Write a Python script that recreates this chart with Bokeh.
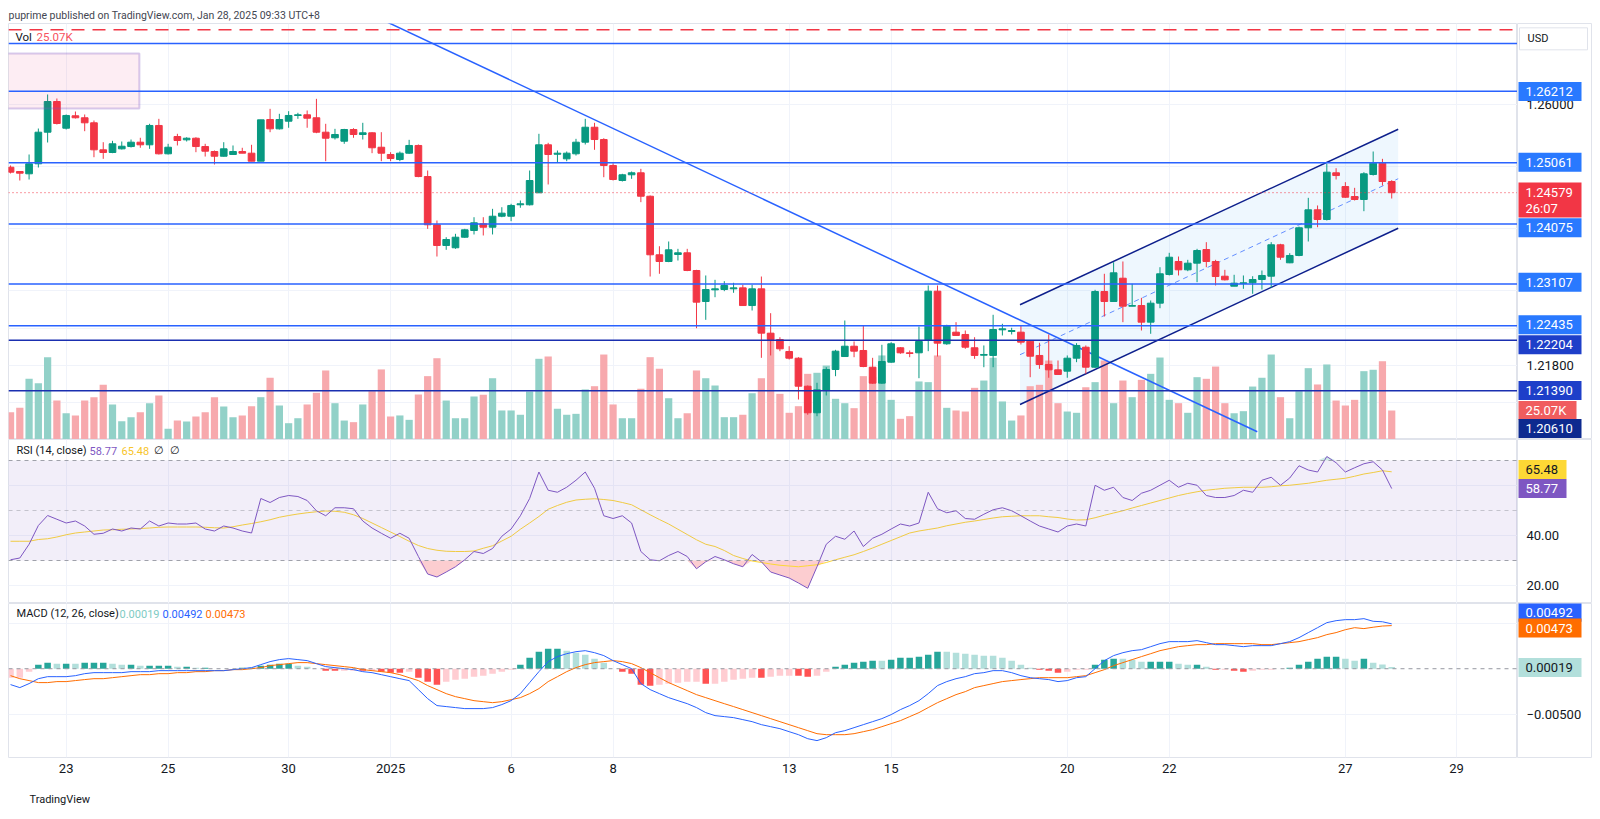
from bokeh.plotting import figure
from bokeh.layouts import column, row
from bokeh.models import (Range1d, FixedTicker, Label, Span, ColumnDataSource, Title,
                          BoxAnnotation)
from bokeh.core.properties import value
from bokeh.embed import file_html
from bokeh.resources import INLINE

# ---------------- data (4H candles) ----------------
opens = [1.24989,1.24920,1.24883,1.25044,1.25553,1.26047,1.25617,1.25817,1.25785,1.25704,
         1.25269,1.25226,1.25285,1.25322,1.25392,1.25350,1.25661,1.25205,1.25483,1.25430,
         1.25456,1.25322,1.25242,1.25166,1.25194,1.25242,1.25215,1.25086,1.25757,1.25607,
         1.25730,1.25822,1.25833,1.25785,1.25553,1.25463,1.25408,1.25596,1.25516,1.25543,
         1.25311,1.25194,1.25113,1.25215,1.25339,1.24839,1.24062,1.23729,1.23692,1.23862,
         1.23970,1.24078,1.24023,1.24200,1.24200,1.24384,1.24384,1.24577,1.25350,1.25198,
         1.25124,1.25205,1.25392,1.25633,1.25435,1.25017,1.24775,1.24867,1.24899,1.24522,
         1.23579,1.23471,1.23584,1.23611,1.23326,1.22827,1.23015,1.23020,1.23031,1.23047,
         1.22762,1.23031,1.22317,1.22215,1.22022,1.21914,1.21463,1.21035,1.21394,1.21732,
         1.21941,1.22107,1.22038,1.21769,1.21512,1.21850,1.22082,1.22001,1.22001,1.22210,
         1.22993,1.22146,1.22333,1.22296,1.22082,1.21962,1.21958,1.22371,1.22344,1.22333,
         1.22188,1.21958,1.21813,1.21727,1.21705,1.21914,1.22091,1.21769,1.22988,1.22827,
         1.23202,1.22751,1.22762,1.22494,1.22800,1.23262,1.23471,1.23337,1.23444,1.23664,
         1.23471,1.23234,1.23073,1.23117,1.23128,1.23181,1.23234,1.23740,1.23450,1.23568,
         1.24014,1.24303,1.24147,1.24899,1.24678,1.24517,1.24469,1.24872,1.25053,1.24759]
highs = [1.25017,1.24920,1.25194,1.25612,1.26160,1.26095,1.25838,1.25886,1.25838,1.25741,
         1.25392,1.25414,1.25403,1.25435,1.25463,1.25688,1.25768,1.25366,1.25527,1.25472,
         1.25472,1.25366,1.25258,1.25392,1.25339,1.25302,1.25350,1.25752,1.25929,1.25849,
         1.25891,1.25865,1.25902,1.26090,1.25688,1.25607,1.25607,1.25617,1.25704,1.25553,
         1.25553,1.25231,1.25242,1.25430,1.25355,1.24936,1.24131,1.23862,1.23917,1.23997,
         1.24184,1.24184,1.24319,1.24345,1.24400,1.24453,1.24936,1.25527,1.25382,1.25258,
         1.25242,1.25446,1.25768,1.25704,1.25456,1.25053,1.24883,1.24920,1.24963,1.24534,
         1.23717,1.23793,1.23675,1.23675,1.23337,1.23246,1.23176,1.23154,1.23128,1.23096,
         1.23096,1.23229,1.22639,1.22252,1.22107,1.21930,1.21475,1.21518,1.21769,1.22049,
         1.22521,1.22183,1.22441,1.21920,1.22130,1.22172,1.22091,1.22038,1.22424,1.23085,
         1.23085,1.22452,1.22494,1.22360,1.22252,1.22119,1.22613,1.22468,1.22404,1.22441,
         1.22199,1.22162,1.22296,1.21877,1.21958,1.22156,1.22119,1.23015,1.23273,1.23460,
         1.23471,1.23112,1.22886,1.22843,1.23379,1.23611,1.23551,1.23498,1.23675,1.23782,
         1.23498,1.23337,1.23257,1.23246,1.23234,1.23326,1.23782,1.23756,1.23605,1.24034,
         1.24496,1.24373,1.25044,1.24973,1.24748,1.24657,1.24909,1.25242,1.25124,1.24780]
lows = [1.24888,1.24775,1.24791,1.24984,1.25387,1.25677,1.25596,1.25773,1.25569,1.25150,
        1.25124,1.25215,1.25274,1.25306,1.25302,1.25285,1.25194,1.25194,1.25339,1.25403,
        1.25231,1.25161,1.25033,1.25161,1.25194,1.25215,1.25086,1.25086,1.25553,1.25596,
        1.25624,1.25768,1.25624,1.25537,1.25086,1.25435,1.25366,1.25463,1.25435,1.25215,
        1.25086,1.25086,1.25086,1.25205,1.24828,1.23997,1.23551,1.23659,1.23675,1.23853,
        1.23906,1.23890,1.23906,1.24184,1.24120,1.24336,1.24373,1.24577,1.24711,1.25060,
        1.25086,1.25177,1.25355,1.25269,1.24828,1.24775,1.24759,1.24802,1.24426,1.23229,
        1.23273,1.23460,1.23487,1.23315,1.22397,1.22532,1.22896,1.22993,1.22967,1.22762,
        1.22682,1.21920,1.21958,1.22027,1.21893,1.21249,1.21003,1.20980,1.21314,1.21624,
        1.21941,1.21930,1.21769,1.21502,1.21502,1.21840,1.21985,1.21930,1.21592,1.22027,
        1.21941,1.22130,1.22280,1.22065,1.21904,1.21769,1.21769,1.22280,1.22296,1.22135,
        1.21608,1.21743,1.21599,1.21652,1.21599,1.21850,1.21663,1.21760,1.22585,1.22827,
        1.22494,1.22751,1.22360,1.22307,1.22719,1.23246,1.23246,1.23315,1.23138,1.23379,
        1.23085,1.23165,1.23073,1.23031,1.22951,1.23020,1.23047,1.23498,1.23444,1.23556,
        1.23793,1.24023,1.24131,1.24791,1.24496,1.24453,1.24281,1.24855,1.24694,1.24485]
closes = [1.24909,1.24893,1.25044,1.25553,1.26047,1.25693,1.25822,1.25785,1.25704,1.25269,
          1.25226,1.25366,1.25327,1.25392,1.25350,1.25661,1.25205,1.25311,1.25419,1.25456,
          1.25322,1.25247,1.25166,1.25285,1.25242,1.25215,1.25086,1.25752,1.25607,1.25757,
          1.25822,1.25833,1.25778,1.25553,1.25456,1.25516,1.25596,1.25516,1.25543,1.25302,
          1.25215,1.25129,1.25215,1.25339,1.24839,1.24062,1.23729,1.23825,1.23862,1.23981,
          1.24094,1.24023,1.24200,1.24249,1.24373,1.24400,1.24775,1.25350,1.25194,1.25215,
          1.25215,1.25392,1.25633,1.25435,1.25017,1.24791,1.24867,1.24899,1.24522,1.23579,
          1.23471,1.23659,1.23611,1.23326,1.22816,1.23020,1.23031,1.23085,1.23047,1.22762,
          1.23031,1.22317,1.22215,1.22065,1.21914,1.21463,1.21035,1.21405,1.21732,1.22027,
          1.22107,1.22027,1.21780,1.21512,1.21861,1.22146,1.22001,1.21990,1.22183,1.22993,
          1.22156,1.22441,1.22280,1.22091,1.21958,1.21974,1.22376,1.22387,1.22360,1.22172,
          1.21946,1.21813,1.21727,1.21652,1.21914,1.22119,1.21769,1.22988,1.22827,1.23289,
          1.22751,1.22762,1.22494,1.22800,1.23273,1.23540,1.23337,1.23444,1.23648,1.23471,
          1.23229,1.23176,1.23122,1.23128,1.23181,1.23246,1.23740,1.23540,1.23568,1.24014,
          1.24303,1.24147,1.24909,1.24855,1.24506,1.24469,1.24883,1.25053,1.24759,1.24579]
volume_k = [23.6,27.4,52.5,48.7,71.2,33.7,22.7,20.8,33.7,36.6,47.3,30.3,15.8,19.3,23.6,
            31.4,38.1,9.3,16.4,15.6,19.9,23.6,36.6,28.5,19.3,20.8,28.8,36.6,53.4,29.4,
            14.1,18.4,30.3,40.4,59.7,31.4,16.4,15.0,30.3,41.8,60.6,19.9,20.8,17.0,38.9,
            54.8,70.3,33.7,18.4,18.4,37.2,38.7,53.0,25.1,25.1,21.4,41.5,69.8,71.8,26.6,
            21.4,22.2,43.3,46.1,73.5,30.3,18.4,18.4,43.9,71.2,61.2,35.7,18.4,22.7,59.7,
            53.0,46.7,19.3,19.3,21.4,40.0,53.0,91.9,39.5,23.1,28.8,56.8,57.7,64.0,35.2,
            31.4,27.1,54.8,53.9,72.7,34.3,17.9,20.2,50.2,49.6,72.7,27.4,25.1,24.2,44.7,
            51.0,70.7,32.9,16.4,20.8,46.1,47.3,68.3,31.4,24.2,23.1,45.2,49.6,68.3,31.4,
            51.0,36.6,51.6,56.8,70.9,34.3,31.4,23.1,53.9,52.5,63.1,31.4,22.7,24.5,45.8,
            53.4,73.5,36.6,18.4,41.8,61.7,47.6,64.9,33.7,29.4,34.3,59.1,60.3,67.7,25.07]
rsi = [30.3,31.0,36.5,44.0,48.0,46.5,45.0,45.8,43.8,40.5,40.9,42.6,41.8,43.0,42.6,45.8,43.8,45.0,44.6,44.6,
       45.0,42.6,41.8,43.8,43.0,41.8,41.0,54.8,53.2,55.2,56.0,55.6,54.0,49.9,47.9,51.1,51.1,50.7,45.8,43.0,
       40.9,38.9,40.9,38.9,31.6,24.6,23.4,25.4,27.5,30.3,33.6,32.8,34.8,39.7,42.6,47.9,54.8,65.4,58.1,57.3,
       59.3,62.1,65.4,58.9,47.9,46.8,47.9,45.0,33.6,30.3,29.9,32.0,33.6,31.6,26.7,29.5,31.6,30.3,28.7,27.5,
       32.4,29.5,25.4,24.2,23.0,21.0,18.9,27.5,36.5,39.7,38.5,41.8,35.6,38.9,40.5,42.6,44.6,43.8,45.0,57.3,
       50.7,49.1,49.9,46.8,46.5,48.5,50.3,51.1,49.9,47.9,45.8,43.8,42.6,41.4,43.8,44.6,43.8,60.1,58.1,59.3,
       55.2,54.0,56.9,58.1,60.1,62.1,59.3,60.9,60.1,56.0,55.2,55.2,56.0,58.1,57.3,62.1,63.3,60.1,63.0,67.9,
       66.2,65.4,71.6,69.1,65.4,67.1,68.7,69.5,66.2,58.77]
rsi_ma = [37.7,37.7,37.7,38.4,38.7,39.4,40.3,41.0,41.4,41.8,42.2,42.3,42.5,42.6,42.8,43.0,43.3,43.4,43.4,43.4,
          43.4,43.3,43.1,43.0,43.5,44.2,44.8,45.5,46.3,47.3,48.0,48.6,49.1,49.5,49.8,49.7,49.3,48.3,46.8,45.0,
          43.2,41.4,39.6,37.7,36.0,34.8,34.1,33.7,33.6,33.6,33.8,34.9,35.9,37.8,39.7,42.5,45.0,47.6,50.5,52.0,
          53.3,54.2,54.5,54.7,54.4,54.0,53.2,52.3,50.3,48.3,46.4,44.6,42.5,40.4,38.3,36.5,35.6,34.0,32.0,30.8,
          29.8,29.2,28.6,28.1,27.8,27.5,27.9,28.3,29.2,30.3,31.3,32.3,33.6,35.0,36.5,38.0,39.5,41.0,41.8,42.4,
          43.0,43.9,44.6,45.3,45.8,46.4,47.0,47.5,47.7,47.9,47.9,47.9,47.5,47.2,46.6,46.2,46.3,47.1,48.1,49.0,
          49.9,51.0,52.0,53.0,54.0,55.0,56.0,56.8,57.5,58.1,58.5,58.9,59.1,59.3,59.3,59.3,59.5,59.9,60.1,60.5,
          60.9,61.5,62.1,62.5,62.9,63.7,64.6,65.2,65.9,65.48]
macd_line = [-0.00174,-0.00207,-0.00163,-0.00109,-0.00087,-0.00087,-0.00087,-0.00076,-0.00054,-0.00043,
             -0.00043,-0.00043,-0.00043,-0.00032,-0.00032,-0.00032,-0.00021,-0.00021,-0.00021,-0.00021,
             -0.00021,-0.00021,-0.00021,-0.00021,-0.00010,0.00001,0.00012,0.00045,0.00078,0.00100,
             0.00111,0.00100,0.00089,0.00056,0.00023,0.00012,0.00001,-0.00010,-0.00032,-0.00043,
             -0.00065,-0.00087,-0.00109,-0.00130,-0.00229,-0.00328,-0.00404,-0.00415,-0.00426,-0.00437,
             -0.00437,-0.00437,-0.00426,-0.00393,-0.00350,-0.00273,-0.00152,-0.00032,0.00078,0.00133,
             0.00165,0.00187,0.00198,0.00176,0.00144,0.00089,0.00045,0.00001,-0.00163,-0.00229,
             -0.00273,-0.00317,-0.00350,-0.00383,-0.00426,-0.00481,-0.00514,-0.00525,-0.00536,-0.00558,
             -0.00580,-0.00613,-0.00635,-0.00657,-0.00690,-0.00723,-0.00767,-0.00788,-0.00756,-0.00701,
             -0.00679,-0.00646,-0.00613,-0.00580,-0.00547,-0.00503,-0.00448,-0.00404,-0.00350,-0.00273,
             -0.00185,-0.00141,-0.00109,-0.00087,-0.00054,-0.00043,-0.00021,-0.00021,-0.00043,-0.00076,
             -0.00098,-0.00109,-0.00119,-0.00141,-0.00130,-0.00098,-0.00087,0.00001,0.00089,0.00144,
             0.00176,0.00198,0.00209,0.00242,0.00275,0.00297,0.00297,0.00297,0.00308,0.00286,
             0.00264,0.00264,0.00253,0.00242,0.00253,0.00253,0.00253,0.00275,0.00297,0.00341,
             0.00396,0.00450,0.00505,0.00527,0.00538,0.00538,0.00549,0.00520,0.00515,0.00492]
signal_line = [-0.00076,-0.00109,-0.00130,-0.00152,-0.00152,-0.00141,-0.00141,-0.00130,-0.00119,-0.00109,
               -0.00109,-0.00098,-0.00087,-0.00076,-0.00065,-0.00065,-0.00054,-0.00054,-0.00043,-0.00043,
               -0.00032,-0.00032,-0.00021,-0.00021,-0.00010,-0.00010,0.00001,0.00012,0.00034,0.00045,
               0.00056,0.00067,0.00067,0.00056,0.00045,0.00034,0.00023,0.00012,-0.00010,-0.00021,
               -0.00032,-0.00043,-0.00065,-0.00098,-0.00130,-0.00185,-0.00229,-0.00273,-0.00306,-0.00328,
               -0.00350,-0.00361,-0.00372,-0.00361,-0.00339,-0.00317,-0.00273,-0.00218,-0.00141,-0.00087,
               -0.00032,0.00012,0.00045,0.00067,0.00078,0.00089,0.00078,0.00056,0.00012,-0.00043,
               -0.00098,-0.00152,-0.00196,-0.00240,-0.00284,-0.00317,-0.00350,-0.00383,-0.00415,-0.00448,
               -0.00481,-0.00514,-0.00547,-0.00580,-0.00613,-0.00646,-0.00679,-0.00712,-0.00723,-0.00723,
               -0.00723,-0.00712,-0.00690,-0.00668,-0.00635,-0.00602,-0.00569,-0.00525,-0.00481,-0.00426,
               -0.00372,-0.00328,-0.00284,-0.00251,-0.00207,-0.00185,-0.00163,-0.00141,-0.00130,-0.00119,
               -0.00109,-0.00098,-0.00098,-0.00098,-0.00098,-0.00087,-0.00076,-0.00043,-0.00010,0.00034,
               0.00067,0.00100,0.00133,0.00165,0.00198,0.00220,0.00242,0.00253,0.00264,0.00264,
               0.00275,0.00275,0.00275,0.00275,0.00275,0.00264,0.00264,0.00275,0.00286,0.00297,
               0.00319,0.00341,0.00374,0.00396,0.00428,0.00450,0.00440,0.00455,0.00468,0.00473]

date_ticks = [6, 17, 30, 41, 54, 65, 84, 95, 114, 125, 144, 156]
date_labels = ["23", "25", "30", "2025", "6", "8", "13", "15", "20", "22", "27", "29"]

levels_blue = [1.26981, 1.26212, 1.25061, 1.24075, 1.23107, 1.22435]
levels_navy = [1.22204, 1.21390]
alert_level = 1.27201
last_price = 1.24579

trend_x = [40.0, 134.5]
trend_y = [1.2737, 1.2073]
chan_x = [108.9, 149.7]
chan_upper = [1.22774, 1.25601]
chan_lower = [1.21169, 1.24007]
chan_mid = [1.21970, 1.24804]
zone = dict(left=-1.0, right=13.9, top=1.26820, bottom=1.25934)

price_ticks = [1.26, 1.218]
price_tick_labels = ["1.26000", "1.21800"]
price_tags = dict(y=[1.26208, 1.25070, 1.24013, 1.23138, 1.22452, 1.22130, 1.21394, 1.21072, 1.20782],
                  text=["1.26212", "1.25061", "1.24075", "1.23107", "1.22435", "1.22204", "1.21390", "25.07K", "1.20610"],
                  bg=["#2979ff", "#2979ff", "#2979ff", "#2979ff", "#2979ff", "#1e3fc9", "#1e3fc9", "#f05d5e", "#0d2a8f"],
                  w=[63, 63, 63, 63, 63, 63, 63, 58, 63])
rsi_ticks = [40, 20]
rsi_tick_labels = ["40.00", "20.00"]
rsi_tags = dict(y=[66.4, 58.8], text=["65.48", "58.77"], bg=["#fdd835", "#7e57c2"],
                fg=["#131722", "white"], w=[48, 48])
macd_ticks = [-0.005]
macd_tick_labels = ["\u22120.00500"]
macd_tags = dict(y=[0.00618, 0.00446, 0.00013], text=["0.00492", "0.00473", "0.00019"],
                 bg=["#2962ff", "#ff6d00", "#b2dfdb"], fg=["white", "white", "#131722"], w=[63, 63, 63])

# ---------------- styles ----------------
UP = "#089981"; DN = "#f23645"
FONT = "Roboto"
TXT = "#131722"
AX = "#e0e3eb"
n = len(closes)
idx = list(range(n))
xr = Range1d(-0.22, 162.57)

def base_fig(h, yr, **kw):
    p = figure(width=1517, height=h, x_range=xr, y_range=yr, output_backend="svg",
               toolbar_location=None, y_axis_location=None, min_border_left=8,
               min_border_right=0, **kw)
    p.outline_line_color = AX
    p.border_fill_color = "white"
    p.background_fill_color = "white"
    p.grid.grid_line_color = "#f0f3fa"
    p.xgrid.ticker = FixedTicker(ticks=date_ticks)
    return p

def side_fig(h, yr, top=0, bottom=0):
    s = figure(width=75, height=h, x_range=Range1d(0, 75), y_range=yr, output_backend="svg",
               toolbar_location=None, x_axis_location=None, y_axis_location=None,
               min_border_left=0, min_border_right=0, min_border_top=top, min_border_bottom=bottom)
    s.grid.visible = False
    s.outline_line_color = AX
    s.border_fill_color = "white"
    return s

def side_ticks(s, ticks, labels):
    s.text(x=[9] * len(ticks), y=ticks, text=labels, text_font=value(FONT),
           text_font_size="13px", text_color=TXT, text_baseline="middle", text_align="left")

def side_tags(s, tags):
    k = len(tags["y"])
    fg = tags.get("fg", ["white"] * k)
    src = ColumnDataSource(dict(y=tags["y"], text=tags["text"], bg=tags["bg"], fg=fg,
                                w=tags["w"], xc=[1 + w / 2 for w in tags["w"]]))
    s.rect(x="xc", y="y", width="w", height=19, height_units="screen", fill_color="bg",
           line_color=None, source=src)
    s.text(x=8, y="y", text="text", text_color="fg", text_font=value(FONT), text_font_size="13px",
           text_baseline="middle", text_align="left", source=src)

def legend(p, x, y, text, color, size="11px"):
    p.add_layout(Label(x=x, y=y, x_units="screen", y_units="screen", text=text,
                       text_color=color, text_font=FONT, text_font_size=size,
                       text_baseline="middle", text_align="left"))

# ---------------- main pane ----------------
p1 = base_fig(439, Range1d(1.20605, 1.27303), x_axis_location=None, min_border_top=23,
              min_border_bottom=0)
p1.title.text = "puprime published on TradingView.com, Jan 28, 2025 09:33 UTC+8"
p1.title.text_font = FONT
p1.title.text_font_size = "10.5px"
p1.title.text_font_style = "normal"
p1.title.text_color = "#434651"
p1.title.standoff = 3
p1.title.offset = 0
p1.extra_y_ranges = {"vol": Range1d(0, 359.8)}
p1.ygrid.ticker = FixedTicker(ticks=[1.212, 1.218, 1.224, 1.23, 1.24, 1.25, 1.26])

cols = [UP if cc >= oo else DN for oo, cc in zip(opens, closes)]
vcols = ["#92d1c8" if cc >= oo else "#f7a9ad" for oo, cc in zip(opens, closes)]
src = ColumnDataSource(dict(x=idx, o=opens, h=highs, l=lows, c=closes, col=cols, vcol=vcols,
                            top=[max(a, b) for a, b in zip(opens, closes)],
                            bot=[min(a, b) for a, b in zip(opens, closes)], vol=volume_k))

p1.add_layout(BoxAnnotation(left=zone["left"], right=zone["right"], top=zone["top"],
                            bottom=zone["bottom"], fill_color="#e91e63", fill_alpha=0.08,
                            line_color="#7e57c2", line_width=2))
p1.varea(x=chan_x, y1=chan_lower, y2=chan_upper, fill_color="#2196f3", fill_alpha=0.08)
p1.vbar(x="x", top="vol", bottom=0, width=0.78, fill_color="vcol", line_color=None,
        y_range_name="vol", source=src)
for lv in levels_blue:
    p1.add_layout(Span(location=lv, dimension="width", line_color="#2962ff", line_width=1.5))
for lv in levels_navy:
    p1.add_layout(Span(location=lv, dimension="width", line_color="#1a2fb0", line_width=1.5))
p1.add_layout(Span(location=alert_level, dimension="width", line_color=DN, line_width=1.5,
                   line_dash="13 8"))
p1.add_layout(Span(location=last_price, dimension="width", line_color=DN, line_width=1,
                   line_dash="1 3"))
p1.line(trend_x, trend_y, line_color="#2962ff", line_width=1.5)
p1.line(chan_x, chan_upper, line_color="#0d1f8c", line_width=1.5)
p1.line(chan_x, chan_lower, line_color="#0d1f8c", line_width=1.5)
p1.line(chan_x, chan_mid, line_color="#2962ff", line_width=1, line_dash="5 4", line_alpha=0.7)
p1.segment(x0="x", y0="h", x1="x", y1="l", line_color="col", line_width=1, source=src)
p1.vbar(x="x", top="top", bottom="bot", width=0.72, fill_color="col", line_color="col",
        line_width=1, source=src)
legend(p1, 7, 403, "Vol", TXT, "11.5px")
legend(p1, 28, 403, "25.07K", "#f7525f", "11.5px")

s1 = side_fig(439, p1.y_range, top=23)
s1.rect(x=[36], y=[1.27056], width=[68], height=22, height_units="screen", fill_color="white",
        line_color=AX)
s1.text(x=[10], y=[1.27056], text=["USD"], text_font=value(FONT), text_font_size="11px",
        text_color=TXT, text_baseline="middle")
side_ticks(s1, price_ticks, price_tick_labels)
side_tags(s1, price_tags)
s1.rect(x=[32.5], y=[1.24461], width=[63], height=35, height_units="screen", fill_color=DN,
        line_color=None)
s1.text(x=[8, 8], y=[1.24579, 1.24329], text=["1.24579", "26:07"], text_font=value(FONT),
        text_font_size="13px", text_color="white", text_baseline="middle")

# ---------------- RSI pane ----------------
p2 = base_fig(164, Range1d(12.8, 78.4), x_axis_location=None, min_border_top=0,
              min_border_bottom=0)
p2.ygrid.ticker = FixedTicker(ticks=[20, 40, 60])
p2.add_layout(BoxAnnotation(bottom=30, top=70, fill_color="#7e57c2", fill_alpha=0.1, line_color=None))
for lv, a in ((70, 0.9), (50, 0.5), (30, 0.9)):
    p2.add_layout(Span(location=lv, dimension="width", line_color="#9598a1", line_width=1,
                       line_dash="4 4", line_alpha=a))
p2.varea(x=idx, y1=[min(v, 30) for v in rsi], y2=[30] * n, fill_color="#f23645", fill_alpha=0.25)
p2.varea(x=idx, y1=[70] * n, y2=[max(v, 70) for v in rsi], fill_color="#089981", fill_alpha=0.2)
p2.line(idx, rsi_ma, line_color="#fdd835", line_width=1)
p2.line(idx, rsi, line_color="#7e57c2", line_width=1)
legend(p2, 8, 153, "RSI (14, close)", TXT)
legend(p2, 81, 153, "58.77", "#7e57c2")
legend(p2, 113, 153, "65.48", "#f7c52b")
legend(p2, 145, 153, "\u2205", TXT)
legend(p2, 161, 153, "\u2205", TXT)

s2 = side_fig(164, p2.y_range)
side_ticks(s2, rsi_ticks, rsi_tick_labels)
side_tags(s2, rsi_tags)

# ---------------- MACD pane ----------------
p3 = base_fig(217, Range1d(-0.009731, 0.007151), x_axis_location="below", min_border_top=0,
              min_border_bottom=60)
p3.ygrid.ticker = FixedTicker(ticks=[-0.005, 0.005])
p3.xaxis.ticker = FixedTicker(ticks=date_ticks)
p3.xaxis.major_label_overrides = {t: l for t, l in zip(date_ticks, date_labels)}
p3.xaxis.axis_line_color = None
p3.xaxis.major_tick_line_color = None
p3.xaxis.minor_tick_line_color = None
p3.xaxis.major_label_text_font = FONT
p3.xaxis.major_label_text_font_size = "13px"
p3.xaxis.major_label_text_color = TXT
p3.xaxis.major_label_standoff = 0
p3.add_layout(Span(location=0, dimension="width", line_color="#9598a1", line_width=1,
                   line_dash="4 4"))
hist = [m - s for m, s in zip(macd_line, signal_line)]
hcols = []
for i, h in enumerate(hist):
    prev = hist[i - 1] if i > 0 else h
    if h >= 0:
        hcols.append("#26a69a" if h >= prev else "#b2dfdb")
    else:
        hcols.append("#ff5252" if h < prev else "#ffcdd2")
p3.vbar(x=idx, top=hist, bottom=0, width=0.7, fill_color=hcols, line_color=None)
p3.line(idx, signal_line, line_color="#ff6d00", line_width=1)
p3.line(idx, macd_line, line_color="#2962ff", line_width=1)
legend(p3, 8, 144, "MACD (12, 26, close)", TXT)
legend(p3, 111, 144, "0.00019", "#80cbc4")
legend(p3, 154, 144, "0.00492", "#2962ff")
legend(p3, 197, 144, "0.00473", "#ff6d00")
p3.add_layout(Title(text="TradingView", text_font=FONT, text_font_size="11px",
                    text_font_style="normal", text_color=TXT, align="left", offset=21,
                    standoff=30), "below")

s3 = side_fig(217, p3.y_range, bottom=60)
side_ticks(s3, macd_ticks, macd_tick_labels)
side_tags(s3, macd_tags)

layout = column(row(p1, s1, spacing=0), row(p2, s2, spacing=0), row(p3, s3, spacing=0), spacing=0)
open("out.html", "w").write(file_html(layout, INLINE))
